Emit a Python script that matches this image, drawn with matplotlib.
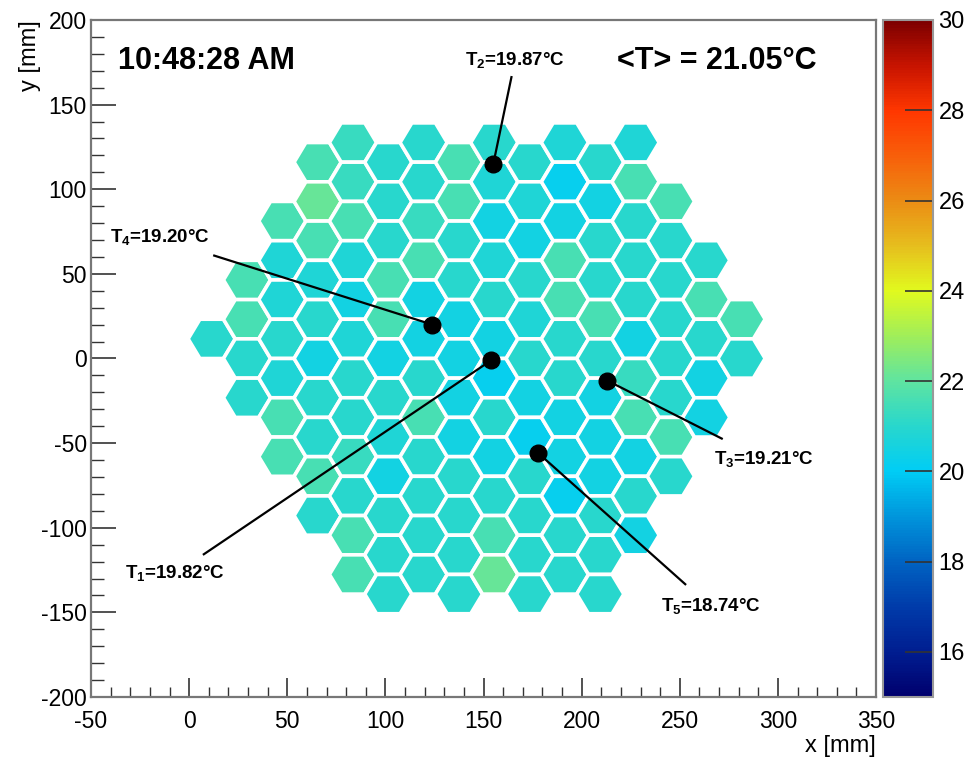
import matplotlib
matplotlib.use('Agg')
import matplotlib.pyplot as plt
import numpy as np
from matplotlib.colors import LinearSegmentedColormap, Normalize
from matplotlib.collections import PolyCollection
import matplotlib.cm as cm

plt.rcParams['font.family'] = ['Liberation Sans', 'DejaVu Sans']
plt.rcParams['mathtext.fontset'] = 'custom'
plt.rcParams['mathtext.rm'] = 'Liberation Sans'
plt.rcParams['mathtext.bf'] = 'Liberation Sans:bold'
plt.rcParams['axes.unicode_minus'] = False

# ---------------- data ----------------
# colour palette (temperature -> colour)
palette_temps = [15, 16, 17, 18, 19, 20, 21, 22, 23, 24, 25, 26, 27, 28, 29, 30]
palette_colors = ['#00006e', '#001e91', '#003caa', '#0064c3', '#0096dc', '#00cdf5',
                  '#28d7cd', '#5fe4a0', '#a0ee5a', '#e1fa1e', '#e6be1e', '#eb8c14',
                  '#f85f0a', '#ff3700', '#c81400', '#7d0000']

# hexagonal module grid: column index, top row index, temperatures top -> bottom
column_index = [-8, -7, -6, -5, -4, -3, -2, -1, 0, 1, 2, 3, 4, 5, 6, 7]
column_top_row = [1, 4, 7, 10, 11, 10, 11, 10, 11, 10, 11, 10, 11, 8, 5, 2]
column_temps = [
    [21.0],
    [21.6, 21.6, 21.0, 21.0],
    [21.6, 20.75, 20.75, 21.0, 20.75, 21.6, 21.6],
    [21.6, 22.1, 21.6, 20.75, 21.0, 20.5, 21.0, 21.0, 21.6, 21.0],
    [21.3, 21.3, 21.6, 20.75, 20.5, 20.75, 21.0, 21.0, 21.3, 21.0, 21.6, 21.6],
    [21.0, 21.0, 21.0, 21.6, 21.6, 20.5, 21.0, 20.75, 20.5, 21.0, 21.0, 21.0],
    [21.0, 21.0, 21.3, 21.6, 20.5, 20.5, 21.0, 21.6, 21.0, 21.0, 21.0, 21.0],
    [21.6, 21.6, 21.0, 21.0, 20.5, 20.5, 20.5, 20.5, 21.0, 21.0, 21.0, 21.0],
    [21.0, 20.75, 20.5, 20.75, 21.0, 20.5, 20.2, 21.0, 20.5, 21.0, 21.6, 22.1],
    [21.0, 20.75, 20.5, 21.0, 20.75, 21.0, 20.5, 20.2, 21.0, 21.0, 21.0, 21.0],
    [20.75, 20.2, 20.5, 21.6, 21.6, 21.0, 21.0, 20.5, 20.5, 20.2, 21.0, 21.0],
    [21.0, 20.5, 21.0, 21.0, 21.6, 21.0, 20.5, 20.5, 20.5, 21.0, 21.0, 21.0],
    [20.75, 21.6, 21.0, 21.0, 21.0, 20.5, 21.3, 21.6, 20.5, 21.0, 20.5],
    [21.6, 21.0, 21.0, 21.0, 21.0, 21.0, 21.6, 21.0],
    [21.0, 21.6, 21.0, 20.5, 20.5],
    [21.6, 21.0],
]

# temperature sensors (mm) and readings
sensor_ids = ['1', '2', '3', '4', '5']
sensor_temps = [19.82, 19.87, 19.21, 19.20, 18.74]
sensor_x = [154.0, 155.0, 213.0, 124.0, 178.0]
sensor_y = [-1.0, 115.0, -13.0, 20.0, -56.0]

time_text = '10:48:28 AM'
mean_temp = 21.05

x_ticks = [-50, 0, 50, 100, 150, 200, 250, 300, 350]
y_ticks = [-200, -150, -100, -50, 0, 50, 100, 150, 200]
cbar_ticks = [16, 18, 20, 22, 24, 26, 28, 30]

# ---------------- layout / geometry ----------------
X0, DX, HH = 155.5, 18.0, 11.6   # grid origin, column pitch, half row pitch
RX = DX / 1.5

W, Hpx = 971, 762
fig = plt.figure(figsize=(W / 100, Hpx / 100), dpi=100)
ax = fig.add_axes([91 / W, 1 - 697 / Hpx, 785 / W, 677 / Hpx])
cax = fig.add_axes([883 / W, 1 - 697 / Hpx, 50 / W, 677 / Hpx])

cmap = LinearSegmentedColormap.from_list(
    'root', [((t - 15) / 15, c) for t, c in zip(palette_temps, palette_colors)])
norm = Normalize(15, 30)

hex_shape = np.array([[RX, 0], [RX / 2, HH], [-RX / 2, HH], [-RX, 0],
                      [-RX / 2, -HH], [RX / 2, -HH]])
polys, vals = [], []
for c, rtop, temps in zip(column_index, column_top_row, column_temps):
    for k, t in enumerate(temps):
        r = rtop - 2 * k
        cx, cy = X0 + c * DX, r * HH
        polys.append(hex_shape + [cx, cy])
        vals.append(t)

pc = PolyCollection(polys, array=np.array(vals), cmap=cmap, norm=norm,
                    edgecolors='white', linewidths=2.6)
ax.add_collection(pc)

ax.set_xlim(-50, 350)
ax.set_ylim(-200, 200)

# sensors
label_dx = [-161, 11, 80, -139, 88]
label_dy = [-126, 61, -47, 51, -91]
line_frac = [0.91, 0.84, 0.73, 0.80, 0.85]
for sid, st, sx, sy, ldx, ldy, fr in zip(sensor_ids, sensor_temps, sensor_x, sensor_y,
                                         label_dx, label_dy, line_frac):
    lx, ly = sx + ldx, sy + ldy
    ex, ey = sx + ldx * fr, sy + ldy * fr
    ax.plot([sx, ex], [sy, ey], color='black', lw=1.6, zorder=3)
    ax.plot(sx, sy, 'o', color='black', ms=12, zorder=4)
    ax.text(lx, ly, r'T$_{\mathbf{%s}}$=%.2f°C' % (sid, st), fontsize=13.5,
            fontweight='bold', ha='center', va='center', zorder=5)

ax.text(-36, 175.5, time_text, fontsize=22, fontweight='bold', ha='left', va='center')
ax.text(218, 175.5, '<T> = %.2f°C' % mean_temp, fontsize=22, fontweight='bold',
        ha='left', va='center')

# axes styling
ax.set_xticks(x_ticks)
ax.set_yticks(y_ticks)
ax.set_xticks(np.arange(-50, 351, 10), minor=True)
ax.set_yticks(np.arange(-200, 201, 10), minor=True)
ax.tick_params(which='both', direction='in', top=False, right=False, colors='#333333',
               labelsize=16.5)
ax.tick_params(axis='x', which='major', length=14, width=1.2, pad=9)
ax.tick_params(axis='x', which='minor', length=7, width=1.0)
ax.tick_params(axis='y', which='major', length=18, width=1.2, pad=3)
ax.tick_params(axis='y', which='minor', length=9, width=1.0)
for lab in ax.get_xticklabels() + ax.get_yticklabels():
    lab.set_color('black')
for sp in ax.spines.values():
    sp.set_color('#777777')
    sp.set_linewidth(1.6)

ax.text(-0.078, 1.0, 'y [mm]', rotation=90, ha='center', va='top', fontsize=17,
        transform=ax.transAxes)
ax.text(1.0, -0.073, 'x [mm]', ha='right', va='center', fontsize=17,
        transform=ax.transAxes)

sm = cm.ScalarMappable(norm=norm, cmap=cmap)
cb = fig.colorbar(sm, cax=cax)
cb.set_ticks(cbar_ticks)
cb.outline.set_edgecolor('#999999')
cb.outline.set_linewidth(1.5)
cax.tick_params(direction='in', length=20, width=1.2, colors='#333333', labelsize=17,
                pad=4)
for lab in cax.get_yticklabels():
    lab.set_color('black')
cax.minorticks_off()

fig.savefig('out.png', dpi=100)
